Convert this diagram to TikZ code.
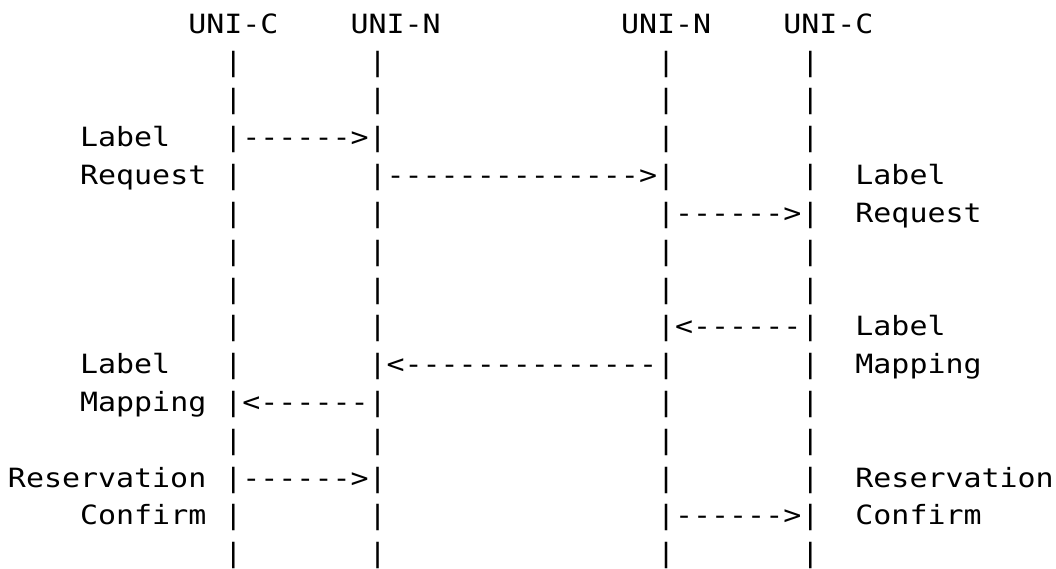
\documentclass[tikz,border=0pt]{standalone}
\usepackage{fontspec}
% monospaced face, slightly widened so one column is 18.03pt wide
\setmonofont{DejaVu Sans Mono}[FakeStretch=1.13]
\begin{document}
\begin{tikzpicture}[x=1pt,y=1pt,
  tok/.style={anchor=base west, inner sep=0pt, outer sep=0pt, text=black,
    font=\ttfamily\fontsize{26.5pt}{30pt}\selectfont}]
\useasboundingbox (0,0) rectangle (1056,-569);
% \tokat{name}{column}{row}{text}: one piece of text on the character grid
\newcommand\tokat[4]{\node[tok] (#1) at ({8+#2*18.03},{-(33.3+#3*37.82)}) {#4};}

% entity names
\tokat{uniC1}{10}{0}{UNI-C}
\tokat{uniN1}{19}{0}{UNI-N}
\tokat{uniN2}{34}{0}{UNI-N}
\tokat{uniC2}{43}{0}{UNI-C}

% lifelines
\foreach \r in {1,...,14}
  \foreach \c in {12,20,36,44}
    {\tokat{bar-\r-\c}{\c}{\r}{|}}

% Label Request
\tokat{lreqA}{4}{3}{Label}
\tokat{lreqB}{4}{4}{Request}
\tokat{m1}{13}{3}{------>}
\tokat{m2}{21}{4}{-------------->}
\tokat{m3}{37}{5}{------>}
\tokat{rreqA}{47}{4}{Label}
\tokat{rreqB}{47}{5}{Request}

% Label Mapping
\tokat{rmapA}{47}{8}{Label}
\tokat{rmapB}{47}{9}{Mapping}
\tokat{m4}{37}{8}{<------}
\tokat{m5}{21}{9}{<--------------}
\tokat{m6}{13}{10}{<------}
\tokat{lmapA}{4}{9}{Label}
\tokat{lmapB}{4}{10}{Mapping}

% Reservation Confirm
\tokat{lresA}{0}{12}{Reservation}
\tokat{lresB}{4}{13}{Confirm}
\tokat{m7}{13}{12}{------>}
\tokat{m8}{37}{13}{------>}
\tokat{rresA}{47}{12}{Reservation}
\tokat{rresB}{47}{13}{Confirm}
\end{tikzpicture}
\end{document}
